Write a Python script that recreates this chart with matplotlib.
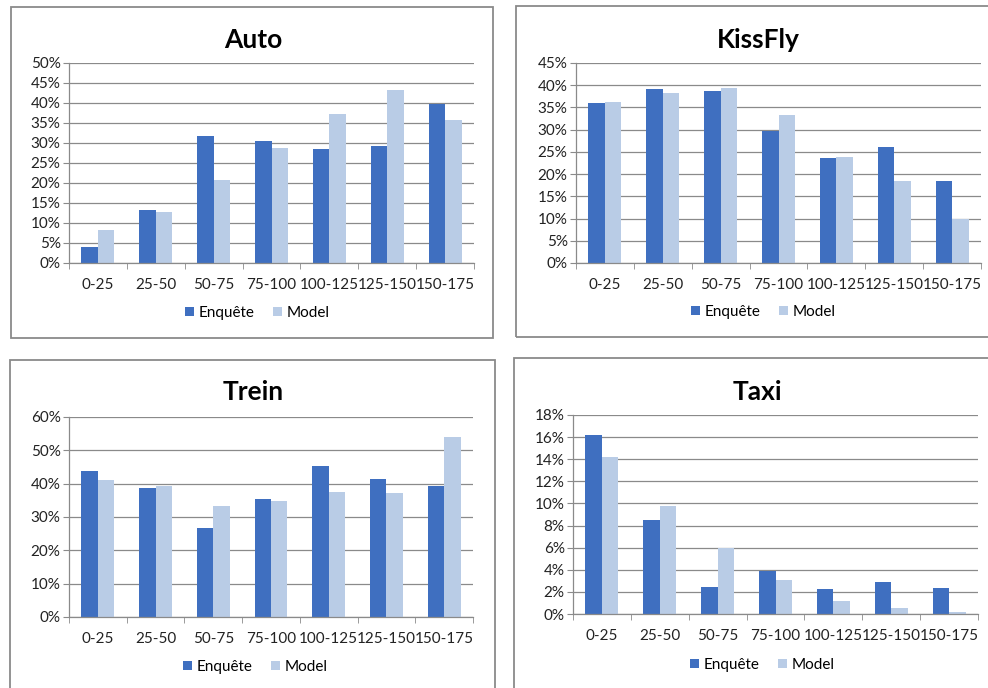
import numpy as np
import matplotlib
matplotlib.use("Agg")
import matplotlib.pyplot as plt
from matplotlib.ticker import PercentFormatter, MultipleLocator, FixedLocator
from matplotlib.patches import Rectangle

plt.rcParams['font.family'] = ['Lato', 'DejaVu Sans']

# afstandsklassen (km)
klassen = ["0-25", "25-50", "50-75", "75-100", "100-125", "125-150", "150-175"]

# aandelen in procenten
auto_enquete = [4.0, 13.3, 31.8, 30.6, 28.6, 29.2, 39.7]
auto_model = [8.2, 12.8, 20.8, 28.7, 37.3, 43.3, 35.8]

kissfly_enquete = [35.9, 39.2, 38.7, 29.8, 23.7, 26.1, 18.4]
kissfly_model = [36.2, 38.2, 39.4, 33.4, 23.8, 18.4, 10.0]

trein_enquete = [43.8, 38.8, 26.7, 35.5, 45.2, 41.5, 39.3]
trein_model = [41.2, 39.3, 33.2, 34.8, 37.5, 37.3, 53.9]

taxi_enquete = [16.2, 8.5, 2.4, 3.9, 2.3, 2.9, 2.35]
taxi_model = [14.2, 9.8, 6.0, 3.1, 1.2, 0.55, 0.18]

titels = ["Auto", "KissFly", "Trein", "Taxi"]
ymax = [50, 45, 60, 18]
ystap = [5, 5, 10, 2]

kleur_enq = "#3f6fc0"
kleur_mod = "#b9cce6"
grijs = "#8a8a8a"

W, H = 988, 688
fig = plt.figure(figsize=(W / 100, H / 100), dpi=100)

def fx(px):
    return px / W

def fy(py):
    return 1 - py / H

# (links, rechts, boven, onder) van het plotgebied in pixels
plotvlakken = [(69, 474, 63, 263), (576, 981, 63, 263),
               (69, 473, 417, 617), (573, 978, 415, 614)]
# kaders rond de grafieken
kaders = [(11, 7, 493, 338), (516, 6, 992, 337),
          (10, 360, 495, 692), (514, 358, 992, 692)]
titelpos = [(253, 40), (758, 40), (253, 392), (757, 392)]
legendapos = [(257, 313), (763, 312), (255, 667), (762, 665)]

data = [(auto_enquete, auto_model), (kissfly_enquete, kissfly_model),
        (trein_enquete, trein_model), (taxi_enquete, taxi_model)]

for k in range(4):
    x0, y0, x1, y1 = kaders[k]
    fig.patches.append(Rectangle((fx(x0), fy(y1)), fx(x1 - x0), (y1 - y0) / H,
                                 transform=fig.transFigure, fill=False,
                                 edgecolor=grijs, linewidth=1.3))

    l, r, t, b = plotvlakken[k]
    ax = fig.add_axes([fx(l), fy(b), fx(r - l), (b - t) / H])
    enq, mod = data[k]
    x = np.arange(len(klassen))
    bw = 1 / 3.5
    b1 = ax.bar(x - bw / 2, enq, bw, color=kleur_enq, label="Enquête")
    b2 = ax.bar(x + bw / 2, mod, bw, color=kleur_mod, label="Model")

    ax.set_xlim(-0.5, len(klassen) - 0.5)
    ax.set_ylim(0, ymax[k])
    ax.yaxis.set_major_locator(MultipleLocator(ystap[k]))
    ax.yaxis.set_major_formatter(PercentFormatter(100, decimals=0))
    ax.set_xticks(x)
    ax.set_xticklabels(klassen)
    ax.xaxis.set_minor_locator(FixedLocator(np.arange(-0.5, len(klassen), 1)))
    ax.tick_params(axis='x', which='major', length=0, pad=11, labelsize=11, colors="#222222")
    ax.tick_params(axis='x', which='minor', length=4, color=grijs)
    ax.tick_params(axis='y', length=4, color=grijs, labelsize=11, pad=2, colors="#222222")
    ax.grid(axis='y', color=grijs, linewidth=0.9)
    ax.set_axisbelow(True)
    for s in ['top', 'right']:
        ax.spines[s].set_visible(False)
    for s in ['left', 'bottom']:
        ax.spines[s].set_color(grijs)
        ax.spines[s].set_linewidth(0.9)

    tx, ty = titelpos[k]
    fig.text(fx(tx), fy(ty), titels[k], ha='center', va='center',
             fontsize=19, fontweight='bold', color="#000000")

    lx, ly = legendapos[k]
    fig.legend([b1, b2], ["Enquête", "Model"], loc='center',
               bbox_to_anchor=(fx(lx), fy(ly)), ncol=2, frameon=False,
               fontsize=11, handlelength=0.6, handleheight=0.6,
               handletextpad=0.3, columnspacing=1.2)

fig.savefig("out.png", dpi=100)
